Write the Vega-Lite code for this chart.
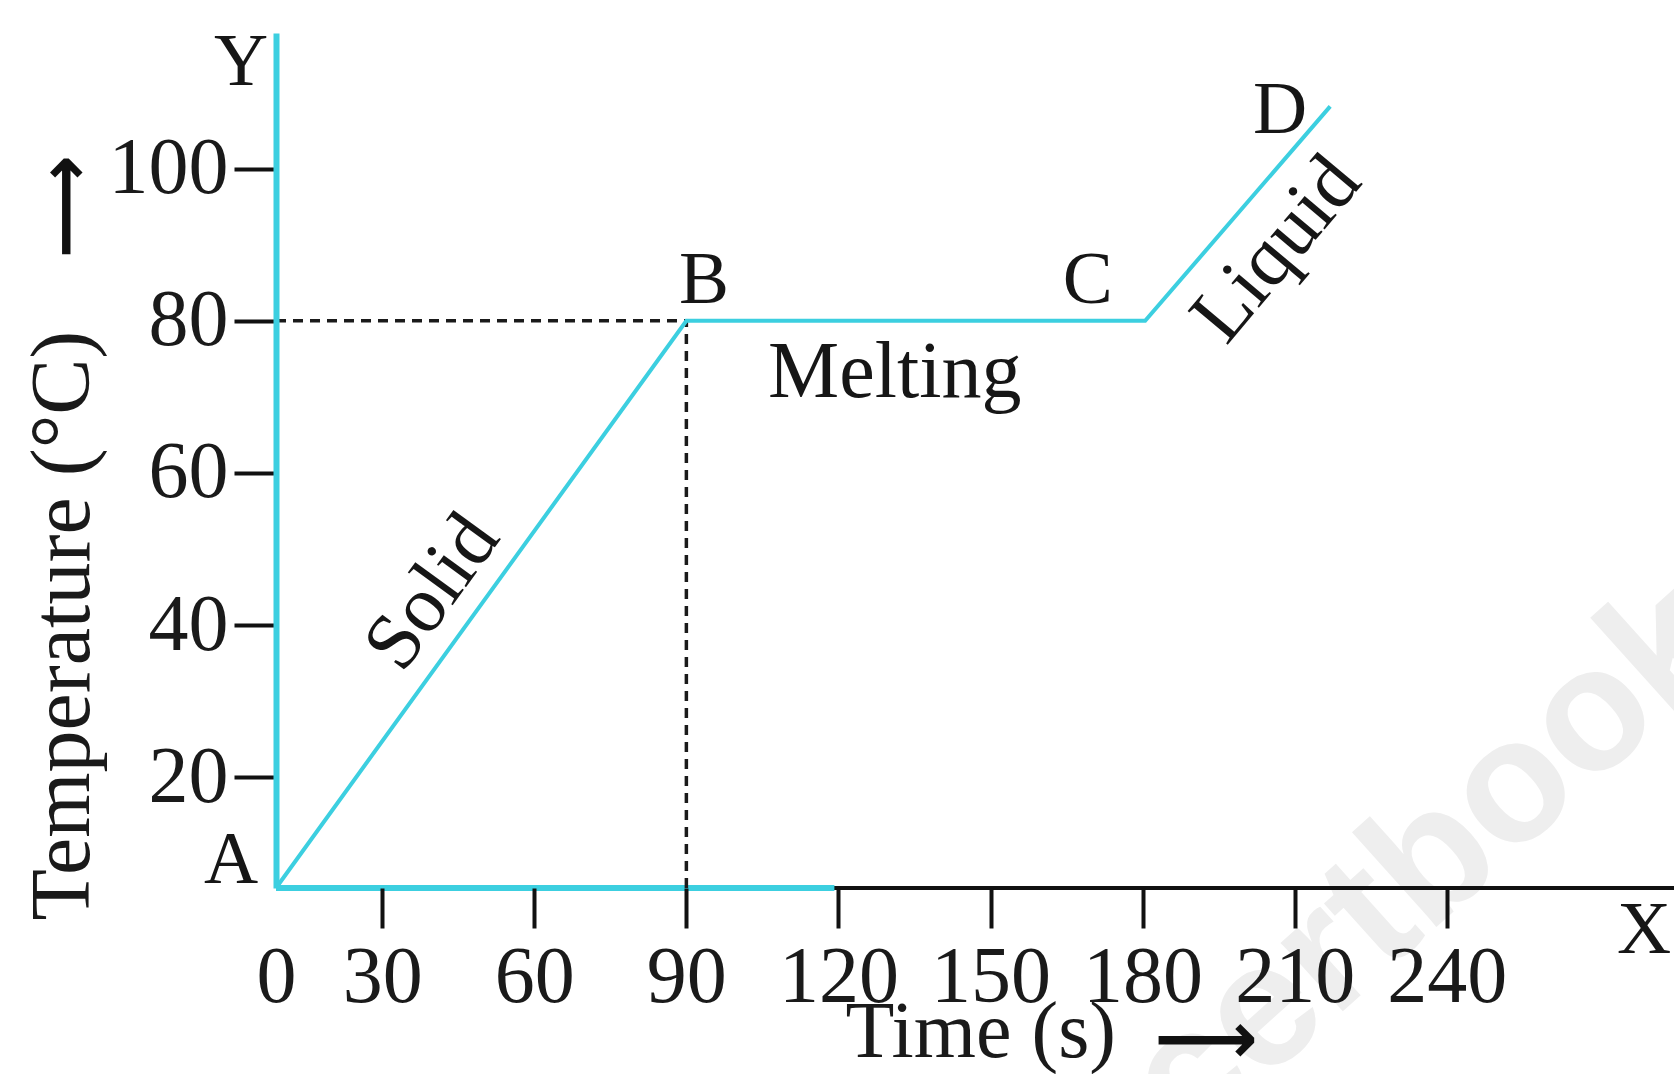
{
  "$schema": "https://vega.github.io/schema/vega-lite/v6.json",
  "width": 1398,
  "height": 855,
  "autosize": {"type": "none"},
  "padding": {"left": 276, "top": 33, "right": 0, "bottom": 186},
  "background": "white",
  "config": {
    "view": {"stroke": null},
    "text": {"font": "Liberation Serif", "color": "#161616"}
  },
  "encoding": {
    "x": {
      "field": "time",
      "type": "quantitative",
      "scale": {"domain": [9.05, 284.82], "nice": false, "zero": false},
      "axis": {
        "values": [9.05, 30, 60, 90, 120, 150, 180, 210, 240],
        "labelExpr": "datum.value < 20 ? '0' : format(datum.value, 'd')",
        "tickColor": {"condition": {"test": "datum.value < 20", "value": "transparent"}, "value": "#111111"},
        "tickSize": 40,
        "tickWidth": 4,
        "domain": false,
        "grid": false,
        "labelFont": "Liberation Serif",
        "labelFontSize": 80,
        "labelColor": "#1a1a1a",
        "labelPadding": 10,
        "labelFlush": false,
        "labelOverlap": false,
        "labelBound": false,
        "title": "Time (s)",
        "titleFont": "Liberation Serif",
        "titleFontSize": 80,
        "titleFontWeight": "normal",
        "titleColor": "#1a1a1a",
        "titleX": 569,
        "titleY": 168,
        "titleAlign": "left",
        "titleBaseline": "alphabetic",
        "zindex": 1
      }
    },
    "y": {
      "field": "temp",
      "type": "quantitative",
      "scale": {"domain": [5.43, 117.84], "nice": false, "zero": false},
      "axis": {
        "values": [20, 40, 60, 80, 100],
        "tickSize": 42,
        "tickWidth": 4,
        "tickColor": "#111111",
        "domainColor": "#3ccfe0",
        "domainWidth": 6,
        "grid": false,
        "labelFont": "Liberation Serif",
        "labelFontSize": 80,
        "labelColor": "#1a1a1a",
        "labelPadding": 6,
        "labelOverlap": false,
        "labelBound": false,
        "labelFlush": false,
        "title": "Temperature (°C)",
        "titleFont": "Liberation Serif",
        "titleFontSize": 84,
        "titleFontWeight": "normal",
        "titleColor": "#1a1a1a",
        "titleX": -188,
        "titleY": 887,
        "titleAngle": -90,
        "titleAlign": "left",
        "titleBaseline": "alphabetic",
        "zindex": 1
      }
    }
  },
  "layer": [
    {
      "data": {"values": [{"time": 166.5, "temp": -33.2, "label": "ncertbooks"}]},
      "mark": {"type": "text", "font": "Liberation Sans", "fontWeight": "bold", "fontSize": 175, "angle": -42, "align": "left", "baseline": "middle", "color": "#eeeeee"},
      "encoding": {"text": {"field": "label"}}
    },
    {
      "data": {"values": [{"time": 9.05, "time2": 284.82, "temp": 5.43}]},
      "mark": {"type": "rule", "color": "#111111", "strokeWidth": 4},
      "encoding": {"x2": {"field": "time2"}}
    },
    {
      "data": {"values": [{"time": 9.05, "time2": 119.2, "temp": 5.43}]},
      "mark": {"type": "rule", "color": "#3ccfe0", "strokeWidth": 6},
      "encoding": {"x2": {"field": "time2"}}
    },
    {
      "data": {"values": [
        {"time": 9.05, "time2": 90, "temp": 80, "temp2": 80},
        {"time": 90, "time2": 90, "temp": 5.43, "temp2": 80}
      ]},
      "mark": {"type": "rule", "color": "#1a1a1a", "strokeWidth": 3.5, "strokeDash": [10, 7]},
      "encoding": {"x2": {"field": "time2"}, "y2": {"field": "temp2"}}
    },
    {
      "data": {"values": [
        {"time": 9.05, "temp": 5.43, "point": "A"},
        {"time": 90, "temp": 80, "point": "B"},
        {"time": 180.5, "temp": 80, "point": "C"},
        {"time": 217, "temp": 108.2, "point": "D"}
      ]},
      "mark": {"type": "line", "color": "#3ccfe0", "strokeWidth": 4},
      "encoding": {}
    },
    {
      "data": {"values": [
        {"time": 0.18, "temp": 6.09, "label": "A"},
        {"time": 93.5, "temp": 82.3, "label": "B"},
        {"time": 169.2, "temp": 82.3, "label": "C"},
        {"time": 207.1, "temp": 104.7, "label": "D"},
        {"time": 2.15, "temp": 111.0, "label": "Y"},
        {"time": 278.9, "temp": -3.1, "label": "X"}
      ]},
      "mark": {"type": "text", "fontSize": 75, "align": "center", "baseline": "alphabetic"},
      "encoding": {"text": {"field": "label"}}
    },
    {
      "data": {"values": [{"time": 131.1, "temp": 70.0, "label": "Melting"}]},
      "mark": {"type": "text", "fontSize": 80, "align": "center", "baseline": "alphabetic"},
      "encoding": {"text": {"field": "label"}}
    },
    {
      "data": {"values": [{"time": 39.9, "temp": 44.3, "label": "Solid"}]},
      "mark": {"type": "text", "fontSize": 80, "align": "center", "baseline": "middle", "angle": -54},
      "encoding": {"text": {"field": "label"}}
    },
    {
      "data": {"values": [{"time": 206.4, "temp": 89.4, "label": "Liquid"}]},
      "mark": {"type": "text", "fontSize": 80, "align": "center", "baseline": "middle", "angle": -50},
      "encoding": {"text": {"field": "label"}}
    },
    {
      "data": {"values": [{"time": 192.5, "temp": -14.7, "label": "⟶"}]},
      "mark": {"type": "text", "font": "DejaVu Sans", "fontWeight": "bold", "fontSize": 72, "align": "center", "baseline": "middle", "color": "#111111"},
      "encoding": {"text": {"field": "label"}}
    },
    {
      "data": {"values": [{"time": -32.2, "temp": 95.0, "label": "⟶"}]},
      "mark": {"type": "text", "font": "DejaVu Sans", "fontWeight": "bold", "fontSize": 72, "align": "center", "baseline": "middle", "angle": -90, "color": "#111111"},
      "encoding": {"text": {"field": "label"}}
    }
  ]
}
